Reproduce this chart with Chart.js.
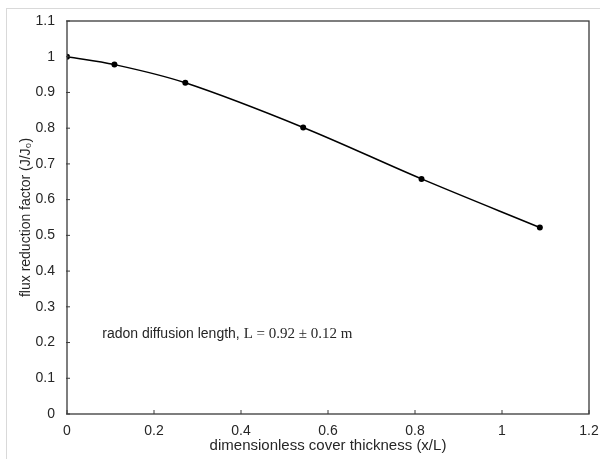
<!DOCTYPE html>
<html>
<head>
<meta charset="utf-8">
<script src="https://cdn.jsdelivr.net/npm/chart.js@4/dist/chart.umd.min.js"></script>
<style>
    html, body { margin: 0; padding: 0; background: #fff; }
    #wrap { position: relative; width: 600px; height: 459px; overflow: hidden; }
    #frame { position: absolute; left: 6px; top: 8px; width: 620px; height: 480px; border: 1px solid #d9d9d9; }
    canvas { position: absolute; left: 0; top: 0; }
</style>
</head>
<body>
<div id="wrap">
    <div id="frame"></div>
    <canvas id="fluxChart" width="600" height="459"></canvas>
</div>
<script>
    // dimensionless thickness x/L and flux reduction J/J0
    const thickness = [0, 0.109, 0.272, 0.543, 0.815, 1.087];
    const fluxFactor = [1.0, 0.978, 0.927, 0.802, 0.658, 0.522];
    const xTicks = [0, 0.2, 0.4, 0.6, 0.8, 1, 1.2];
    const yTicks = [0, 0.1, 0.2, 0.3, 0.4, 0.5, 0.6, 0.7, 0.8, 0.9, 1, 1.1];

    const axisColor = '#3a3a3a';
    const textColor = '#262626';
    const sans = '"Liberation Sans", Arial, sans-serif';
    const serif = '"Liberation Serif", "DejaVu Serif", serif';

    // box around the plot area plus short inward tick marks
    const frameTicks = {
        id: 'frameTicks',
        afterDatasetsDraw(chart) {
            const { ctx, chartArea: a, scales } = chart;
            ctx.save();
            ctx.strokeStyle = axisColor;
            ctx.lineWidth = 1.3;
            ctx.strokeRect(a.left, a.top, a.right - a.left, a.bottom - a.top);
            ctx.lineWidth = 1;
            ctx.beginPath();
            xTicks.forEach(v => {
                const px = scales.x.getPixelForValue(v);
                ctx.moveTo(px, a.bottom);
                ctx.lineTo(px, a.bottom - 4);
            });
            yTicks.forEach(v => {
                const py = scales.y.getPixelForValue(v);
                ctx.moveTo(a.left - 1, py);
                ctx.lineTo(a.left + 3, py);
            });
            ctx.stroke();

            // annotation text
            const tx = scales.x.getPixelForValue(0.081);
            const ty = scales.y.getPixelForValue(0.224);
            ctx.fillStyle = textColor;
            ctx.textBaseline = 'middle';
            ctx.textAlign = 'left';
            ctx.font = '14px ' + sans;
            const plain = 'radon diffusion length, ';
            ctx.fillText(plain, tx, ty);
            const w = ctx.measureText(plain).width;
            ctx.font = '15px ' + serif;
            ctx.fillText('L = 0.92 \u00b1 0.12 m', tx + w, ty);
            ctx.restore();
        }
    };

    const tickLabel = v => Number(v.toFixed(1)).toString();

    const ctx = document.getElementById('fluxChart').getContext('2d');
    new Chart(ctx, {
        type: 'scatter',
        data: {
            datasets: [{
                data: thickness.map((x, i) => ({ x: x, y: fluxFactor[i] })),
                showLine: true,
                borderColor: '#000',
                borderWidth: 1.5,
                backgroundColor: '#000',
                pointRadius: 3,
                pointBorderWidth: 0,
                tension: 0.35
            }]
        },
        options: {
            responsive: false,
            animation: false,
            layout: { padding: { left: 0, right: 11, top: 21, bottom: 0 } },
            plugins: {
                legend: { display: false },
                tooltip: { enabled: false }
            },
            scales: {
                x: {
                    type: 'linear',
                    min: 0,
                    max: 1.2,
                    afterBuildTicks: s => { s.ticks = xTicks.map(v => ({ value: v })); },
                    afterFit: s => { s.height = 45; s.paddingLeft = 0; s.paddingRight = 0; },
                    grid: { display: false },
                    border: { display: false },
                    ticks: {
                        callback: tickLabel,
                        color: textColor,
                        font: { family: sans, size: 14 },
                        padding: 1,
                        maxRotation: 0
                    },
                    title: {
                        display: true,
                        text: 'dimensionless cover thickness (x/L)',
                        color: textColor,
                        font: { family: sans, size: 15 },
                        padding: { top: 0, bottom: 4 }
                    }
                },
                y: {
                    type: 'linear',
                    min: 0,
                    max: 1.1,
                    afterBuildTicks: s => { s.ticks = yTicks.map(v => ({ value: v })); },
                    afterFit: s => { s.width = 67; s.paddingTop = 0; s.paddingBottom = 0; },
                    grid: { display: false },
                    border: { display: false },
                    ticks: {
                        callback: tickLabel,
                        color: textColor,
                        font: { family: sans, size: 14 },
                        padding: 4
                    },
                    title: {
                        display: true,
                        text: 'flux reduction factor (J/J\u2080)',
                        color: textColor,
                        font: { family: sans, size: 14 },
                        padding: { top: 18, bottom: 0 }
                    }
                }
            }
        },
        plugins: [frameTicks]
    });
</script>
</body>
</html>
